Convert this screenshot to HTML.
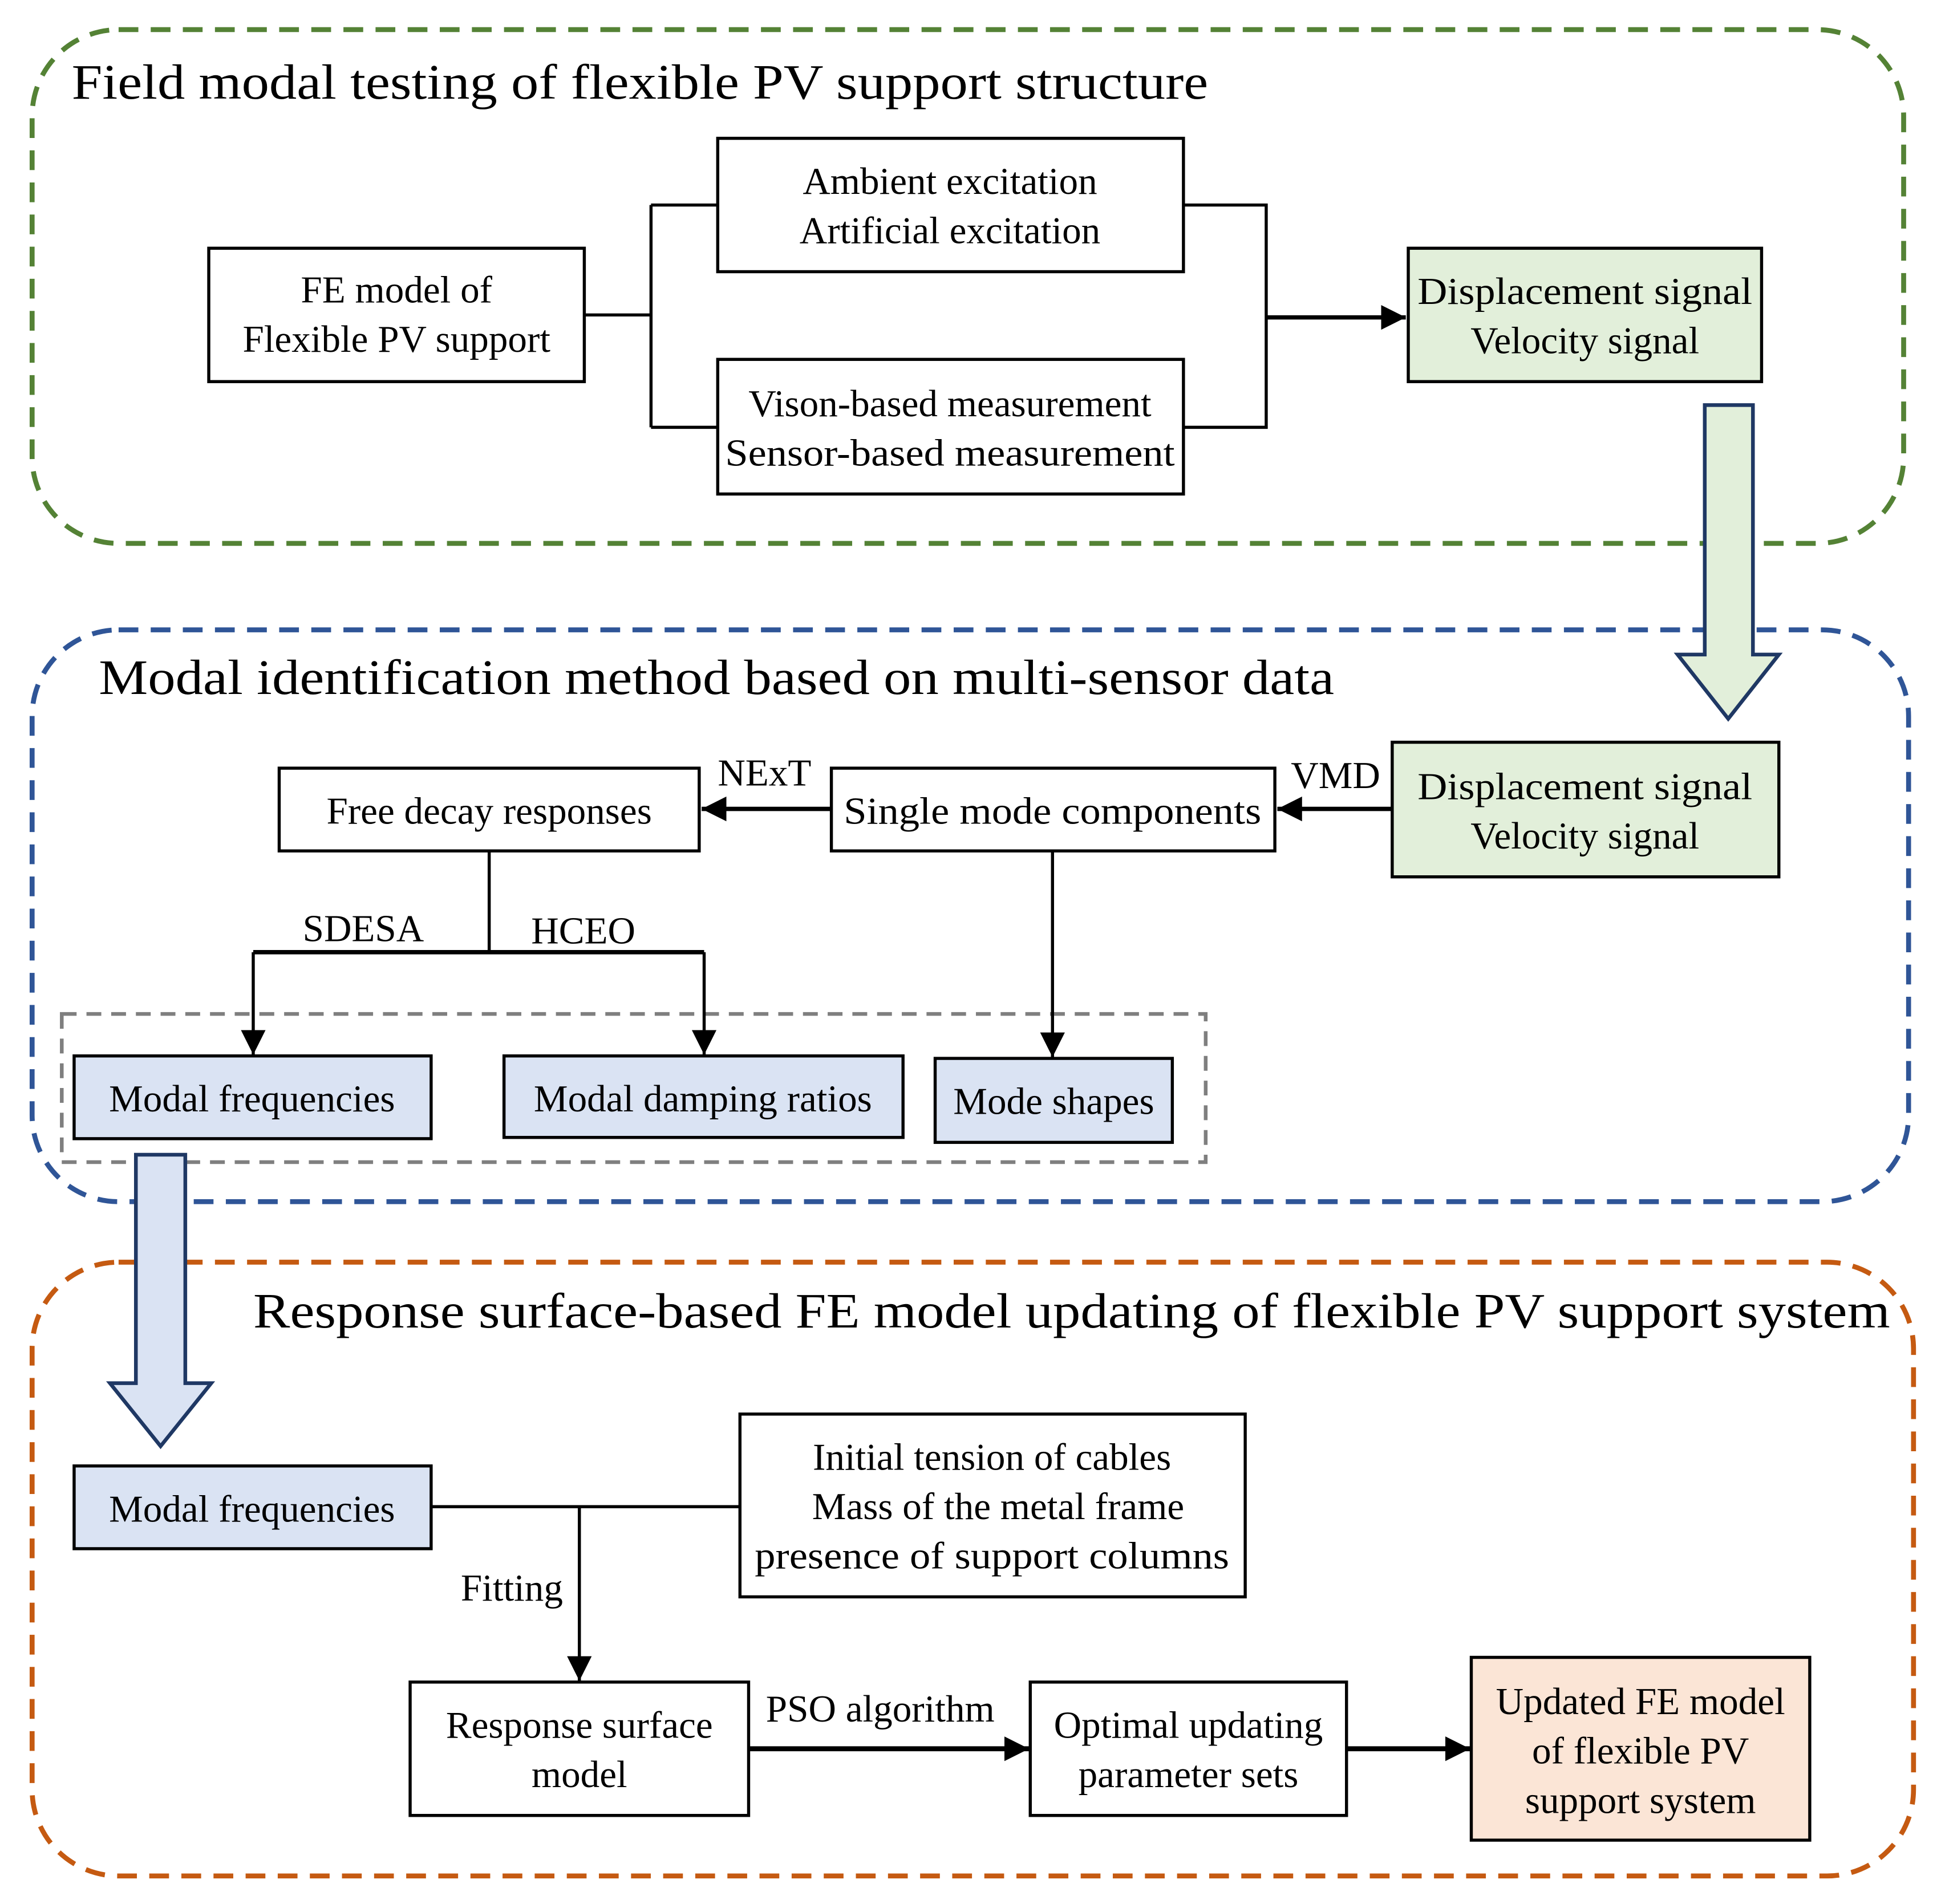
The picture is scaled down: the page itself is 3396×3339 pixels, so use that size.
<!DOCTYPE html>
<html><head><meta charset="utf-8"><style>html,body{margin:0;padding:0;background:#fff}svg{display:block}text{font-family:"Liberation Serif",serif;fill:#000}</style></head><body>
<svg width="3396" height="3339" viewBox="0 0 1568 1541.7" preserveAspectRatio="none" xmlns="http://www.w3.org/2000/svg">
<defs><marker id="a" markerWidth="8" markerHeight="8" refX="7" refY="4" orient="auto" markerUnits="userSpaceOnUse" viewBox="0 0 8 8"><path d="M0,0 L8,4 L0,8 z" fill="#000"/></marker>
<marker id="b" viewBox="0 0 10 10" refX="10" refY="5" markerWidth="20" markerHeight="22" orient="auto" markerUnits="userSpaceOnUse"><path d="M0,0 L10,5 L0,10 z" fill="#000"/></marker></defs>
<g fill="none" stroke-width="4" stroke-dasharray="16,10">
<rect x="26" y="24" width="1515" height="416" rx="70" stroke="#548235"/>
<rect x="26" y="510" width="1519" height="463" rx="70" stroke="#2f5597"/>
<rect x="26" y="1022" width="1523" height="497" rx="70" stroke="#c55a11"/>
</g>
<rect x="50" y="821" width="926" height="120" fill="none" stroke="#7f7f7f" stroke-width="3" stroke-dasharray="12,8"/>
<g font-size="40">
<text x="58" y="80" textLength="920" lengthAdjust="spacingAndGlyphs">Field modal testing of flexible PV support structure</text>
<text x="80" y="562" textLength="1000" lengthAdjust="spacingAndGlyphs">Modal identification method based on multi-sensor data</text>
<text x="205" y="1075" textLength="1325" lengthAdjust="spacingAndGlyphs">Response surface-based FE model updating of flexible PV support system</text>
</g>
<g stroke="#000" stroke-width="2.5">
<rect x="169" y="201" width="304" height="108" fill="#fff"/>
<rect x="581" y="112" width="377" height="108" fill="#fff"/>
<rect x="581" y="291" width="377" height="109" fill="#fff"/>
<rect x="1140" y="201" width="286" height="108" fill="#e2efda"/>
<rect x="226" y="622" width="340" height="67" fill="#fff"/>
<rect x="673" y="622" width="359" height="67" fill="#fff"/>
<rect x="1127" y="601" width="313" height="109" fill="#e2efda"/>
<rect x="60" y="855" width="289" height="67" fill="#dae3f3"/>
<rect x="408" y="855" width="323" height="66" fill="#dae3f3"/>
<rect x="757" y="857" width="192" height="68" fill="#dae3f3"/>
<rect x="60" y="1187" width="289" height="67" fill="#dae3f3"/>
<rect x="599" y="1145" width="409" height="148" fill="#fff"/>
<rect x="332" y="1362" width="274" height="108" fill="#fff"/>
<rect x="834" y="1362" width="256" height="108" fill="#fff"/>
<rect x="1191" y="1342" width="274" height="148" fill="#fbe5d6"/>
</g>
<g stroke="#000" stroke-width="2.5" fill="none">
<path d="M473,255 H527 M527,166 V346 M527,166 H581 M527,346 H581 M958,166 H1025 V346 H958"/>
<path d="M1025,257 H1138" stroke-width="3.5" marker-end="url(#b)"/>
<path d="M1127,655 H1034" stroke-width="3.5" marker-end="url(#b)"/>
<path d="M673,655 H568" stroke-width="3.5" marker-end="url(#b)"/>
<path d="M396,689 V771"/>
<path d="M205,771 H570" stroke-width="3.5"/>
<path d="M205,771 V854" marker-end="url(#b)"/>
<path d="M570,771 V854" marker-end="url(#b)"/>
<path d="M852,689 V856" marker-end="url(#b)"/>
<path d="M349,1220 H599"/>
<path d="M469,1220 V1361" marker-end="url(#b)"/>
<path d="M606,1416 H833" stroke-width="4" marker-end="url(#b)"/>
<path d="M1090,1416 H1190" stroke-width="4" marker-end="url(#b)"/>
</g>
<path d="M1380,328 H1419 V530 H1440 L1399,582 L1358,530 H1380 Z" fill="#e2efda" stroke="#1f3864" stroke-width="3"/>
<path d="M110,935 H150 V1120 H171 L130,1171 L89,1120 H110 Z" fill="#dae3f3" stroke="#1f3864" stroke-width="3"/>
<g font-size="31" text-anchor="middle">
<text x="321" y="245">FE model of</text>
<text x="321" y="285">Flexible PV support</text>
<text x="769" y="157">Ambient excitation</text>
<text x="769" y="197">Artificial excitation</text>
<text x="769" y="337">Vison-based measurement</text>
<text x="769" y="377" textLength="364" lengthAdjust="spacingAndGlyphs">Sensor-based measurement</text>
<text x="1283" y="246" textLength="271" lengthAdjust="spacingAndGlyphs">Displacement signal</text>
<text x="1283" y="286">Velocity signal</text>
<text x="396" y="667">Free decay responses</text>
<text x="852" y="667" textLength="338" lengthAdjust="spacingAndGlyphs">Single mode components</text>
<text x="1283" y="647" textLength="271" lengthAdjust="spacingAndGlyphs">Displacement signal</text>
<text x="1283" y="687">Velocity signal</text>
<text x="204" y="900">Modal frequencies</text>
<text x="569" y="900">Modal damping ratios</text>
<text x="853" y="902">Mode shapes</text>
<text x="204" y="1232">Modal frequencies</text>
<text x="803" y="1190">Initial tension of cables</text>
<text x="808" y="1230">Mass of the metal frame</text>
<text x="803" y="1270" textLength="384" lengthAdjust="spacingAndGlyphs">presence of support columns</text>
<text x="469" y="1407">Response surface</text>
<text x="469" y="1447">model</text>
<text x="962" y="1407">Optimal updating</text>
<text x="962" y="1447">parameter sets</text>
<text x="1328" y="1388">Updated FE model</text>
<text x="1328" y="1428">of flexible PV</text>
<text x="1328" y="1468">support system</text>
</g>
<g font-size="31">
<text x="581" y="636">NExT</text>
<text x="1045" y="638">VMD</text>
<text x="245" y="762">SDESA</text>
<text x="430" y="764">HCEO</text>
<text x="373" y="1296">Fitting</text>
<text x="620" y="1394">PSO algorithm</text>
</g>
</svg>
</body></html>
